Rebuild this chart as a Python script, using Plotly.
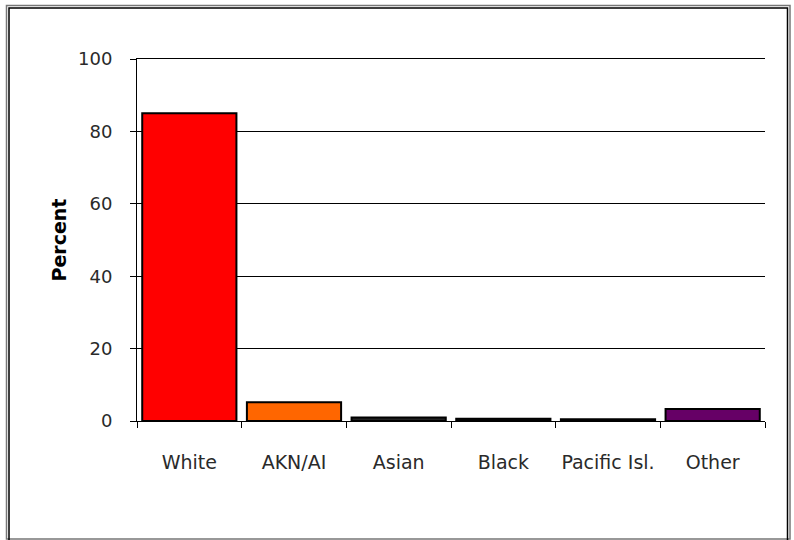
import plotly.graph_objects as go

categories = ["White", "AKN/AI", "Asian", "Black", "Pacific Isl.", "Other"]
percent = [85.0, 5.2, 1.0, 0.6, 0.5, 3.3]
bar_colors = ["#FF0000", "#FF6600", "#222222", "#111111", "#111111", "#660066"]
y_ticks = [0, 20, 40, 60, 80, 100]

fig = go.Figure()
fig.add_trace(go.Bar(
    x=categories, y=percent,
    marker=dict(color=bar_colors, line=dict(color="black", width=2)),
    width=0.9,
))

L, R, T, B = 137, 29, 59, 119
W, H = 794, 540
pw, ph = W - L - R, H - T - B

def px_x(p):
    return (p - L) / pw

def px_y(p):
    return (H - B - p) / ph

fig.add_shape(type="rect", xref="paper", yref="paper",
              x0=px_x(6.5), x1=px_x(790), y0=px_y(539), y1=px_y(5.5),
              line=dict(color="#777777", width=1.5), layer="below")
fig.add_shape(type="rect", xref="paper", yref="paper",
              x0=px_x(9), x1=px_x(787.5), y0=px_y(580), y1=px_y(8),
              line=dict(color="black", width=1.5), layer="below")

fig.update_layout(
    width=W, height=H,
    margin=dict(l=L, r=R, t=T, b=B),
    paper_bgcolor="white", plot_bgcolor="white",
    showlegend=False,
    font=dict(family="DejaVu Sans, Arial, sans-serif", size=18, color="#2a2a2a"),
    bargap=0.09,
)
fig.update_xaxes(
    showline=True, linecolor="black", linewidth=1, mirror=True,
    ticks="outside", tickson="boundaries", ticklen=6, tickcolor="black",
    ticklabelstandoff=24, showgrid=False,
    tickfont=dict(size=19),
    range=[-0.5, 5.5],
)
fig.update_yaxes(
    range=[0, 100], tickvals=y_ticks,
    showline=True, linecolor="black", linewidth=1,
    ticks="outside", ticklen=6, tickcolor="black",
    showgrid=True, gridcolor="black", gridwidth=1,
    zeroline=False, ticklabelstandoff=14,
    tickfont=dict(size=18),
    title=dict(text="<b>Percent</b>", font=dict(size=19, color="black"), standoff=6),
)

fig.write_html("out.html", config={"displayModeBar": False},
               post_script="document.body.style.margin='0';document.body.style.overflow='hidden';")
